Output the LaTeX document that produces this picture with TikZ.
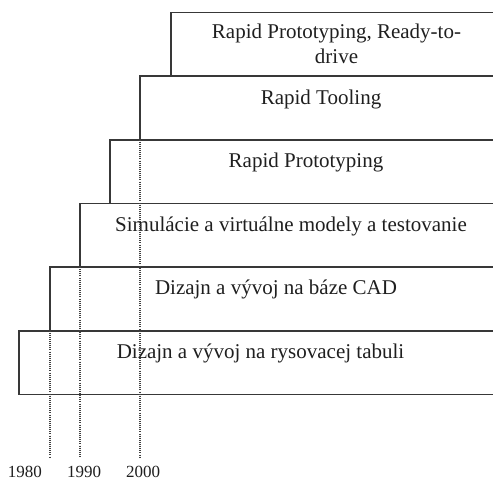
\documentclass[tikz,border=0pt]{standalone}
\usepackage{fontspec}
\setmainfont{Liberation Serif}
\begin{document}
\begin{tikzpicture}[x=1pt,y=-1pt,
  stage/.style={draw=black!78, line width=1.2pt, inner sep=0pt, outer sep=0pt,
    anchor=north west, minimum height=63.5pt},
  stagetext/.style={inner sep=0pt, anchor=base, text=black!88,
    font=\fontsize{21}{25}\selectfont},
  yearline/.style={draw=black!75, line width=1.2pt, dash pattern=on 1pt off 1.1pt},
  yeartext/.style={inner sep=0pt, anchor=base, text=black!88,
    font=\fontsize{17}{20}\selectfont}]
\useasboundingbox (0,0) rectangle (493,483);
\clip (0,0) rectangle (493,483);

% stacked stages, each one starting further left (earlier)
\node[stage, minimum width=483pt] (b6) at (19,331) {};
\node[stage, minimum width=452pt] (b5) at (50,267) {};
\node[stage, minimum width=422pt] (b4) at (80,203.5) {};
\node[stage, minimum width=392pt] (b3) at (110,140) {};
\node[stage, minimum width=362pt] (b2) at (140,76) {};
\node[stage, minimum width=331pt] (b1) at (171,12.5) {};

% stage labels
\node[stagetext, align=center, anchor=north] (t1) at ([yshift=-11.5pt]b1.north)
  {Rapid Prototyping, Ready-to-\\drive};
\node[stagetext] (t2) at ([yshift=-28.5pt]b2.north) {Rapid Tooling};
\node[stagetext] (t3) at ([yshift=-27.5pt]b3.north) {Rapid Prototyping};
\node[stagetext] (t4) at ([yshift=-27.5pt]b4.north) {Simulácie a virtuálne modely a testovanie};
\node[stagetext] (t5) at ([yshift=-27.5pt]b5.north) {Dizajn a vývoj na báze CAD};
\node[stagetext] (t6) at ([yshift=-27.5pt]b6.north) {Dizajn a vývoj na rysovacej tabuli};

% time markers
\coordinate (e2000) at (140,458);
\coordinate (e1990) at (80,458);
\coordinate (e1980) at (50,458);
\draw[yearline] (b2.south west) -- (e2000);
\draw[yearline] (b4.south west) -- (e1990);
\draw[yearline] (b5.south west) -- (e1980);

\node[yeartext] (y1980) at (25,477.5) {1980};
\node[yeartext] (y1990) at (84,477.5) {1990};
\node[yeartext] (y2000) at (143,477.5) {2000};
\end{tikzpicture}
\end{document}
